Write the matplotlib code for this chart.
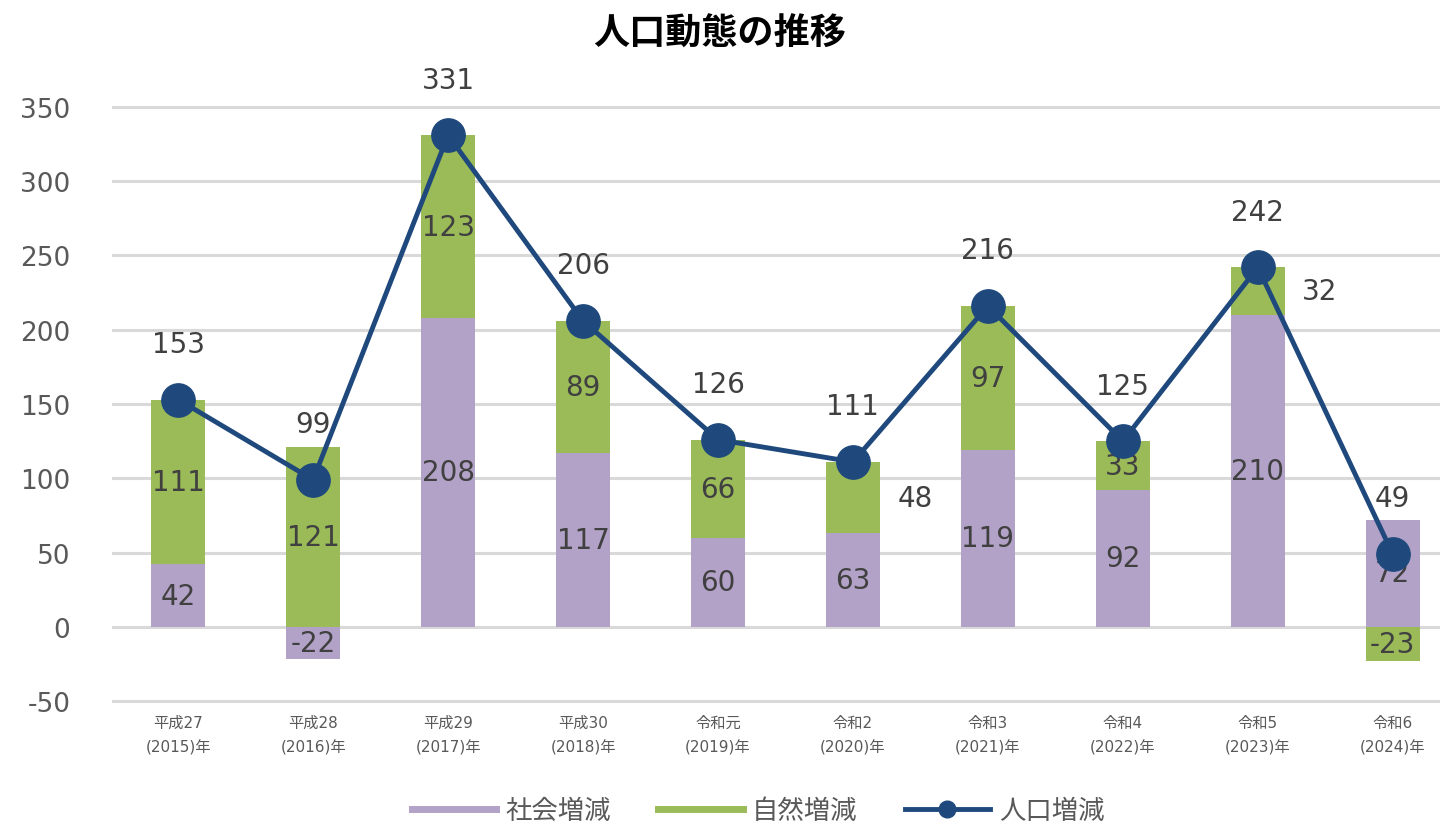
import matplotlib
matplotlib.use("Agg")
import matplotlib.pyplot as plt
from matplotlib.lines import Line2D
import numpy as np

plt.rcParams['font.family'] = ['DejaVu Sans', 'Noto Sans CJK JP']

title = "人口動態の推移"
categories = ["平成27\n(2015)年", "平成28\n(2016)年", "平成29\n(2017)年", "平成30\n(2018)年",
              "令和元\n(2019)年", "令和2\n(2020)年", "令和3\n(2021)年", "令和4\n(2022)年",
              "令和5\n(2023)年", "令和6\n(2024)年"]
social = [42, -22, 208, 117, 60, 63, 119, 92, 210, 72]
natural = [111, 121, 123, 89, 66, 48, 97, 33, 32, -23]
population = [153, 99, 331, 206, 126, 111, 216, 125, 242, 49]
series_names = ["社会増減", "自然増減", "人口増減"]
yticks = [-50, 0, 50, 100, 150, 200, 250, 300, 350]

c_soc = "#b3a2c7"
c_nat = "#9bbb59"
c_pop = "#1f497d"
c_txt = "#404040"
c_tick = "#595959"

fig = plt.figure(figsize=(14.48, 8.28), dpi=100)
# y range -52..352 -> pixel 705..105
ax = fig.add_axes([112/1448, (828-705)/828, (1440-112)/1448, 600/828])

x = np.arange(len(categories))
soc = np.array(social)
nat = np.array(natural)
soc_bottom = np.zeros(len(x))
nat_bottom = np.where((nat >= 0) & (soc >= 0), soc, 0)
nat_bottom = np.where(nat < 0, np.where(soc < 0, soc, 0), nat_bottom)

w = 0.4
ax.bar(x, soc, w, bottom=soc_bottom, color=c_soc, zorder=2)
ax.bar(x, nat, w, bottom=nat_bottom, color=c_nat, zorder=2)

outside = (5, 8)
for i in range(len(x)):
    ax.text(x[i], soc_bottom[i] + soc[i] / 2, str(social[i]), ha='center', va='center',
            fontsize=20, color=c_txt, zorder=3)
    yc = nat_bottom[i] + nat[i] / 2
    if i in outside:
        ax.text(x[i] + 0.33, yc, str(natural[i]), ha='left', va='center',
                fontsize=20, color=c_txt, zorder=3)
    else:
        ax.text(x[i], yc, str(natural[i]), ha='center', va='center',
                fontsize=20, color=c_txt, zorder=3)

ax.plot(x, population, color=c_pop, lw=3.5, marker='o', markersize=24, zorder=4)
for i in range(len(x)):
    ax.annotate(str(population[i]), (x[i], population[i]), xytext=(0, 40),
                textcoords='offset points', ha='center', va='center',
                fontsize=20, color=c_txt, zorder=5)

ax.set_xlim(-0.49, 9.35)
ax.set_ylim(-52, 352)
ax.set_yticks(yticks)
ax.set_yticklabels([str(v) for v in yticks], fontsize=19, color=c_tick)
ax.set_xticks(x)
ax.set_xticklabels(categories, fontsize=11, color=c_tick, linespacing=1.75)
ax.tick_params(axis='both', length=0)
ax.tick_params(axis='y', pad=30)
ax.tick_params(axis='x', pad=8)
for s in ax.spines.values():
    s.set_visible(False)
ax.grid(axis='y', color='#d9d9d9', lw=2.2, zorder=0)
ax.set_axisbelow(True)

fig.text(720/1448, 1 - 35/828, title, ha='center', va='center', fontsize=26,
         fontweight='bold', color='black')

handles = [Line2D([0], [0], color=c_soc, lw=5),
           Line2D([0], [0], color=c_nat, lw=5),
           Line2D([0], [0], color=c_pop, lw=3.5, marker='o', markersize=12)]
leg = fig.legend(handles, series_names, loc='center', bbox_to_anchor=(758/1448, 1 - 812/828),
                 ncol=3, frameon=False, fontsize=19, handlelength=3.2, columnspacing=1.8,
                 handletextpad=0.35)
for t in leg.get_texts():
    t.set_color(c_tick)

fig.savefig("out.png", dpi=100)
